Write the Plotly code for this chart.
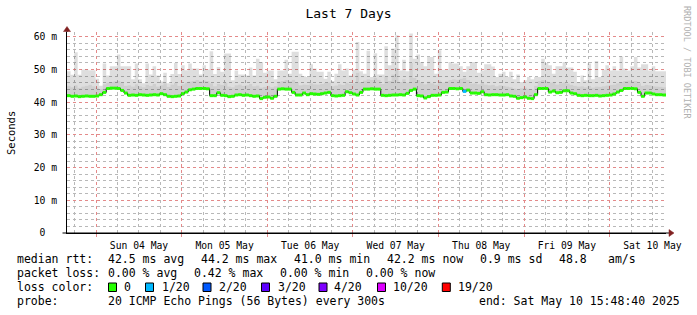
import pandas as pd
import plotly.graph_objects as go

# ---------------- data ----------------
START = pd.Timestamp("2025-05-03 15:48:40")
END = pd.Timestamp("2025-05-10 15:48:40")

# hourly median rtt (ms)
median_ms = [
    42.0, 41.8, 41.9, 41.7, 41.8, 41.9, 41.8, 41.8, 41.9, 42.3,
    43.0, 44.2, 44.3, 44.3, 44.2, 43.6, 42.8, 42.1, 42.2, 42.1,
    42.3, 42.2, 42.1, 42.2, 42.3, 42.2, 42.6, 42.3, 41.8, 41.7,
    41.8, 41.9, 42.6, 43.1, 43.8, 44.0, 44.2, 44.2, 44.2, 44.1,
    42.0, 42.0, 42.9, 42.1, 42.0, 41.7, 41.8, 42.2, 42.3, 42.1,
    42.2, 42.0, 41.8, 41.9, 41.1, 41.5, 41.6, 41.2, 41.8, 44.0,
    44.1, 44.0, 44.0, 43.0, 42.2, 42.2, 42.8, 42.3, 42.6, 42.5,
    42.4, 42.6, 42.8, 43.0, 42.0, 41.9, 42.0, 42.1, 43.2, 42.9,
    42.5, 42.2, 43.0, 44.0, 44.0, 44.1, 44.0, 44.0, 42.1, 42.0,
    42.1, 42.2, 42.2, 42.3, 42.2, 42.7, 43.6, 44.0, 42.0, 41.9,
    41.3, 41.7, 42.1, 42.1, 42.2, 43.0, 43.1, 44.2, 44.2, 44.1,
    44.2, 43.3, 43.7, 42.8, 42.8, 42.7, 43.2, 42.3, 42.2, 42.3,
    42.3, 42.2, 42.2, 42.3, 41.9, 41.8, 41.2, 41.4, 41.6, 41.2,
    41.1, 42.3, 44.2, 44.2, 44.2, 43.1, 43.4, 42.9, 43.0, 43.5,
    43.5, 42.8, 42.6, 42.1, 42.0, 42.1, 42.0, 42.0, 42.1, 41.9,
    42.0, 42.1, 42.2, 42.5, 43.1, 43.6, 44.2, 44.2, 44.2, 44.1,
    43.0, 41.8, 42.8, 42.8, 42.5, 42.3, 42.3, 42.2,
]

# hourly inner smoke top (ms)
mid_ms = [
    45.0, 44.6, 45.2, 44.4, 44.8, 45.0, 45.3, 44.9, 44.5, 44.0,
    45.5, 46.0, 46.2, 46.4, 46.5, 46.0, 45.0, 45.2, 44.8, 45.5,
    44.9, 44.6, 45.3, 45.0, 45.6, 44.8, 45.2, 45.8, 44.7, 45.4,
    45.9, 45.0, 45.5, 46.0, 46.3, 46.5, 46.8, 46.4, 46.6, 46.5,
    45.8, 44.9, 45.6, 45.3, 46.0, 44.8, 44.6, 45.2, 45.4, 45.0,
    45.2, 45.6, 44.9, 45.1, 44.5, 44.7, 45.0, 44.6, 44.9, 46.3,
    46.5, 46.8, 46.4, 46.9, 46.0, 45.2, 45.4, 45.3, 45.8, 45.5,
    45.4, 45.6, 45.9, 46.0, 44.9, 45.1, 45.5, 45.3, 46.0, 45.6,
    45.8, 49.0, 46.2, 46.6, 47.0, 46.8, 47.5, 46.9, 45.6, 47.8,
    46.5, 48.5, 50.5, 46.2, 47.0, 46.0, 52.0, 47.5, 46.8, 46.0,
    45.5, 46.3, 45.8, 45.4, 46.6, 46.0, 46.4, 46.8, 47.0, 46.9,
    47.2, 47.5, 46.8, 45.7, 45.8, 45.5, 45.9, 45.4, 45.2, 45.3,
    44.9, 45.2, 45.0, 44.8, 44.6, 44.2, 43.8, 44.3, 44.5, 44.1,
    43.9, 45.0, 46.5, 46.8, 46.4, 46.0, 46.1, 45.4, 45.8, 46.0,
    45.7, 45.3, 45.0, 44.8, 44.9, 44.6, 45.0, 44.5, 44.8, 44.7,
    44.9, 45.1, 45.3, 45.4, 45.8, 46.2, 46.5, 46.6, 46.4, 46.5,
    45.8, 45.0, 45.3, 45.2, 44.9, 44.8, 44.7, 44.6,
]

# hourly max smoke (ms)
max_ms = [
    49.5, 48.4, 55.3, 48.4, 50.0, 50.0, 49.8, 49.8, 47.2, 45.0,
    51.8, 48.2, 51.0, 51.0, 54.6, 51.0, 51.0, 51.0, 47.0, 51.8,
    47.0, 45.8, 51.8, 48.5, 51.0, 48.2, 46.3, 49.0, 45.8, 48.6,
    52.0, 48.6, 51.3, 49.8, 51.8, 50.3, 50.3, 48.5, 51.3, 50.0,
    55.6, 48.6, 50.8, 49.3, 54.9, 54.9, 46.7, 49.7, 48.5, 48.5,
    48.2, 50.6, 48.2, 53.3, 52.3, 49.0, 49.7, 49.7, 47.0, 49.7,
    49.7, 53.0, 48.7, 55.4, 55.4, 48.7, 47.9, 47.7, 51.6, 50.3,
    49.3, 49.3, 47.2, 49.3, 46.5, 48.7, 51.6, 49.7, 50.3, 48.2,
    49.9, 58.4, 49.5, 48.7, 55.7, 47.7, 55.0, 48.5, 48.5, 57.1,
    51.3, 56.4, 60.5, 49.7, 53.0, 49.5, 61.0, 53.3, 54.6, 52.3,
    51.0, 53.8, 53.8, 48.7, 55.9, 49.9, 49.9, 52.3, 51.8, 51.8,
    51.0, 49.3, 51.0, 52.3, 52.3, 49.0, 49.7, 51.6, 51.6, 50.9,
    47.7, 48.7, 49.3, 47.7, 49.3, 47.0, 48.5, 46.2, 46.7, 47.7,
    47.0, 47.7, 47.7, 53.3, 52.0, 51.3, 48.7, 51.0, 51.0, 52.3,
    50.6, 50.6, 49.3, 46.2, 48.2, 46.7, 51.8, 47.0, 52.6, 47.7,
    49.9, 51.3, 49.7, 51.0, 49.7, 54.0, 50.3, 49.7, 51.0, 53.8,
    50.6, 51.6, 51.6, 49.7, 51.0, 49.5, 49.5, 49.5,
]

# hours with packet loss: hour index -> lost pings (of 20)
loss_hours = {111: 1}

title_text = "Last 7 Days"
y_title = "Seconds"
y_tickvals = [0, 10, 20, 30, 40, 50, 60]
y_ticktext = ["0\u00a0\u00a0", "10 m", "20 m", "30 m", "40 m", "50 m", "60 m"]

median_stats = ["42.5 ms avg", "44.2 ms max", "41.0 ms min", "42.2 ms now",
                "0.9 ms sd", "48.8", "am/s"]
loss_stats = ["0.00 % avg", "0.42 % max", "0.00 % min", "0.00 % now"]
loss_levels = [0, 1, 2, 3, 4, 10, 19]
loss_labels = ["0", "1/20", "2/20", "3/20", "4/20", "10/20", "19/20"]
loss_colors = ["#26ff00", "#00b8ff", "#0059ff", "#5e00ff", "#7e00ff", "#dd00ff", "#ff0000"]
probe_text = "20 ICMP Echo Pings (56 Bytes) every 300s"
end_text = "end: Sat May 10 15:48:40 2025"
watermark = "RRDTOOL / TOBI OETIKER"

# ---------------- layout geometry ----------------
W, H = 697, 315
L, R, T, B = 67, 31, 32, 82
PW, PH = W - L - R, H - T - B
PX_PER_MS = 3.27
MONO = "DejaVu Sans Mono"


def px(x):
    return (x - L) / PW


def py(y):
    return (H - B - y) / PH


n = len(median_ms)
edges = list(pd.date_range(START, periods=n + 1, freq="h"))


def step(vals):
    return list(vals) + [vals[-1]]


fig = go.Figure()
fig.add_trace(go.Scatter(x=edges, y=step(median_ms), mode="lines",
                         line=dict(width=0, shape="hv"), hoverinfo="skip", showlegend=False))
fig.add_trace(go.Scatter(x=edges, y=step(mid_ms), mode="lines", fill="tonexty",
                         fillcolor="rgba(0,0,0,0.19)",
                         line=dict(width=0, shape="hv"), hoverinfo="skip", showlegend=False))
fig.add_trace(go.Scatter(x=edges, y=step(max_ms), mode="lines", fill="tonexty",
                         fillcolor="rgba(0,0,0,0.13)",
                         line=dict(width=0, shape="hv"), hoverinfo="skip", showlegend=False))
fig.add_trace(go.Scatter(x=edges, y=step(median_ms), mode="lines",
                         line=dict(width=1, color="black", shape="hv"),
                         hoverinfo="skip", showlegend=False))

for lvl, col in zip(loss_levels, loss_colors):
    xs, ys = [], []
    for i, v in enumerate(median_ms):
        if loss_hours.get(i, 0) == lvl:
            xs += [edges[i], edges[i + 1], None]
            ys += [v, v, None]
    if xs:
        fig.add_trace(go.Scatter(x=xs, y=ys, mode="lines",
                                 line=dict(width=3, color=col),
                                 hoverinfo="skip", showlegend=False))

# carrier trace for the day axis (labels + red day grid)
fig.add_trace(go.Scatter(x=[START, END], y=[None, None], xaxis="x2", mode="lines",
                         hoverinfo="skip", showlegend=False))

MAJOR = "#e48a8a"
MINOR = "#b8b8b8"
DASH = "dot"
TICKFONT = dict(family=MONO, size=9.7, color="black")

fig.update_layout(
    width=W, height=H,
    margin=dict(l=L, r=R, t=T, b=B, pad=0),
    paper_bgcolor="white", plot_bgcolor="white",
    font=dict(family=MONO, color="black"),
    title=dict(text=title_text, x=0.5, xref="container", xanchor="center",
               y=1 - 13.5 / H, yref="container", yanchor="middle",
               font=dict(family=MONO, size=13, color="black")),
    # 6-hour grey grid + axis line
    xaxis=dict(type="date", range=[START, END], showgrid=True,
               gridcolor=MINOR, griddash=DASH, gridwidth=1,
               tickmode="linear", dtick=21600000, tick0="2025-05-04 00:00",
               showticklabels=False,
               ticks="", showline=True, linecolor="black", linewidth=1,
               zeroline=False),
    # day grid (red) + period labels
    xaxis2=dict(type="date", overlaying="x", anchor="y", side="bottom",
                range=[START, END], showgrid=True,
                gridcolor=MAJOR, griddash=DASH, gridwidth=1,
                dtick=86400000, tick0="2025-05-04", tickformat="%a %d %b",
                ticklabelmode="period", ticks="outside", ticklen=3,
                tickcolor=MAJOR, showline=False, zeroline=False,
                tickfont=TICKFONT),
    yaxis=dict(range=[0, PH / PX_PER_MS], tickvals=y_tickvals, ticktext=y_ticktext,
               showgrid=True, gridcolor=MAJOR, griddash=DASH, gridwidth=1,
               minor=dict(tickmode="linear", tick0=0, dtick=2, showgrid=True,
                          gridcolor=MINOR, griddash=DASH, gridwidth=1, ticks=""),
               showline=True, linecolor="black", linewidth=1, zeroline=False,
               ticks="", ticklabelstandoff=7, tickfont=TICKFONT),
)

ann = []


def text(x, y, s, size=11.5, color="black", anchor="left", angle=0):
    ann.append(dict(x=px(x), y=py(y), xref="paper", yref="paper", text=s,
                    showarrow=False, xanchor=anchor, yanchor="middle",
                    textangle=angle, borderpad=0,
                    font=dict(family=MONO, size=size, color=color)))


# y title and watermark
text(11, 133, y_title, size=10.5, anchor="center", angle=-90)
text(687, 62, watermark, size=8.5, color="#b0b0b0", anchor="center", angle=90)

# legend rows
row_y = [259, 273, 287, 301]
text(16, row_y[0], "median rtt:")
for xx, s in zip([107, 200, 293, 386, 479, 558, 607], median_stats):
    text(xx, row_y[0], s)
text(16, row_y[1], "packet loss:")
for xx, s in zip([107, 193, 279, 365], loss_stats):
    text(xx, row_y[1], s)
text(16, row_y[2], "loss color:")
sq_x = [108.5, 145.5, 203, 261.5, 319, 377.5, 442.3]
lab_x = [123, 160.5, 218, 276.5, 333, 392, 456.5]
shapes = []
for sx, lx, lab, col in zip(sq_x, lab_x, loss_labels, loss_colors):
    shapes.append(dict(type="rect", xref="paper", yref="paper",
                       x0=px(sx), x1=px(sx + 8), y0=py(row_y[2] + 4.5), y1=py(row_y[2] - 4),
                       fillcolor=col, line=dict(color="black", width=1)))
    text(lx, row_y[2], lab)
text(16, row_y[3], "probe:")
text(107, row_y[3], probe_text)
text(478, row_y[3], end_text)

# axis extensions and arrows
AX = "#802020"
shapes += [
    dict(type="line", xref="paper", yref="paper", x0=px(L), x1=px(L), y0=1, y1=py(29),
         line=dict(color="black", width=1)),
    dict(type="line", xref="paper", yref="paper", x0=px(62.5), x1=px(669), y0=0, y1=0,
         line=dict(color="black", width=1)),
    dict(type="path", xref="paper", yref="paper",
         path=f"M {px(63.5)},{py(31.5)} L {px(70.5)},{py(31.5)} L {px(67)},{py(26.5)} Z",
         fillcolor=AX, line=dict(color=AX, width=0.5)),
    dict(type="path", xref="paper", yref="paper",
         path=f"M {px(669)},{py(229.5)} L {px(669)},{py(236.5)} L {px(674)},{py(233)} Z",
         fillcolor=AX, line=dict(color=AX, width=0.5)),
]

fig.update_layout(annotations=ann, shapes=shapes)
fig.write_html("out.html")
